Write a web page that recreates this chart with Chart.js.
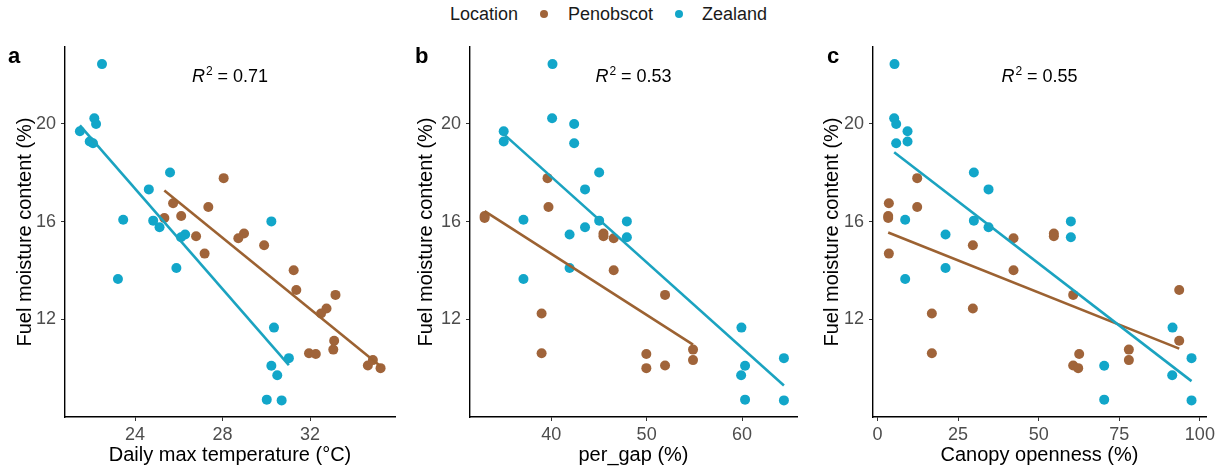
<!DOCTYPE html>
<html>
<head>
<meta charset="utf-8">
<script src="https://cdn.jsdelivr.net/npm/chart.js@4.4.1/dist/chart.umd.min.js"></script>
<style>
  body { margin: 0; background: #fff; font-family: "Liberation Sans", Arial, sans-serif; }
  #page { position: relative; width: 1220px; height: 469px; overflow: hidden; }
  .panel { position: absolute; top: 40px; height: 429px; }
  .legend { position: absolute; top: 3px; font-size: 18px; line-height: 22px; color: #1a1a1a; white-space: nowrap; }
  .dot { position: absolute; top: 10px; width: 8px; height: 8px; border-radius: 50%; }
</style>
</head>
<body>
<div id="page">
  <span class="legend" style="left:450px">Location</span>
  <span class="dot" style="left:540px;background:#a0643a"></span>
  <span class="legend" style="left:568px">Penobscot</span>
  <span class="dot" style="left:675px;background:#12a6c9"></span>
  <span class="legend" style="left:702px">Zealand</span>

  <div class="panel" style="left:0;width:400px"><canvas id="chartA"></canvas></div>
  <div class="panel" style="left:400px;width:402px"><canvas id="chartB"></canvas></div>
  <div class="panel" style="left:800px;width:420px"><canvas id="chartC"></canvas></div>
</div>

<script>
// --- data ---
const locations = ["Penobscot", "Zealand"];
const colors = { Penobscot: "#a0643a", Zealand: "#12a6c9" };
const lineColors = { Penobscot: "#9c6232", Zealand: "#1ba3c0" };

// fuel moisture content (%) — same sites in every panel
const zealandMoisture = [22.45, 20.23, 20.0, 19.7, 19.28, 19.21, 18.01, 17.32, 16.08, 16.04, 16.01,
                         15.77, 15.47, 15.36, 14.1, 13.65, 11.66, 10.41, 10.1, 9.71, 8.71, 8.68];
const penobscotMoisture = [17.78, 16.75, 16.6, 16.23, 16.15, 15.51, 15.4, 15.32, 15.03, 14.69, 14.01,
                           13.2, 13.0, 12.44, 12.24, 11.12, 10.76, 10.61, 10.58, 10.33, 10.11, 10.0];

// a: daily max temperature (°C)
const zealandTemp = [22.49, 22.14, 22.22, 21.48, 21.93, 22.08, 25.6, 24.63, 23.46, 24.83, 30.23,
                     25.12, 26.29, 26.1, 25.89, 23.22, 30.35, 31.03, 30.23, 30.5, 30.02, 30.7];
const penobscotTemp = [28.05, 25.74, 27.35, 26.11, 25.34, 28.98, 26.79, 28.72, 29.9, 27.18, 31.25,
                       31.37, 33.16, 32.75, 32.5, 33.1, 33.06, 31.95, 32.26, 34.87, 34.64, 35.22];

// b: per_gap (%) — null where no value is plotted
const zealandGap = [40.14, 40.1, 42.41, 35.03, 35.03, 42.41, 45.03, 43.55, 37.1, 45.03, 47.93,
                    43.55, 41.93, 47.93, 41.93, 37.1, 59.93, 64.38, 60.31, 59.9, 60.31, 64.38];
const penobscotGap = [39.62, null, 39.72, 33.03, 33.03, 45.48, 45.48, 46.55, null, null, 46.55,
                      null, 51.93, null, 39.0, null, 54.86, 39.0, 49.97, 54.86, 51.93, 49.97];

// c: canopy openness (%)
const zealandCanopy = [5.27, 5.17, 5.79, 9.31, 9.31, 5.79, 29.89, 34.44, 8.58, 29.89, 59.98,
                       34.44, 21.1, 59.98, 21.1, 8.58, 91.52, 97.41, 70.32, 91.42, 70.32, 97.41];
const penobscotCanopy = [12.31, 3.52, 12.31, 3.31, 3.31, 54.7, 54.7, 42.19, 29.58, 3.52, 42.19,
                         93.59, 60.7, 29.58, 16.86, 93.59, 77.97, 16.86, 62.56, 77.97, 60.7, 62.25];

const yTicks = [12, 16, 20];
const tempTicks = [24, 28, 32];
const gapTicks = [40, 50, 60];
const canopyTicks = [0, 25, 50, 75, 100];
const rSquared = ["0.71", "0.53", "0.55"];

// --- helpers ---
function toPoints(xs, ys) {
    const pts = [];
    xs.forEach((x, i) => { if (x !== null) pts.push({ x: x, y: ys[i] }); });
    return pts;
}

// least-squares line over the points, from smallest to largest x
function fitLine(pts) {
    const n = pts.length;
    const mx = pts.reduce((s, p) => s + p.x, 0) / n;
    const my = pts.reduce((s, p) => s + p.y, 0) / n;
    let sxy = 0, sxx = 0;
    pts.forEach(p => { sxy += (p.x - mx) * (p.y - my); sxx += (p.x - mx) ** 2; });
    const slope = sxy / sxx;
    const xs = pts.map(p => p.x);
    const x0 = Math.min(...xs), x1 = Math.max(...xs);
    return [{ x: x0, y: my + slope * (x0 - mx) }, { x: x1, y: my + slope * (x1 - mx) }];
}

const panelText = {
    id: "panelText",
    afterDraw(chart, args, opts) {
        const { ctx, chartArea } = chart;
        ctx.save();
        ctx.fillStyle = "#000";
        ctx.textBaseline = "alphabetic";
        ctx.font = 'bold 22px "Liberation Sans", Arial, sans-serif';
        ctx.fillText(opts.letter, opts.letterX, 23);

        // R² = value, centred over the plot area
        const fR = 'italic 18px "Liberation Sans", Arial, sans-serif';
        const fSup = '12px "Liberation Sans", Arial, sans-serif';
        const fTxt = '18px "Liberation Sans", Arial, sans-serif';
        const rest = " = " + opts.r2;
        ctx.font = fR; const wR = ctx.measureText("R").width;
        ctx.font = fSup; const wS = ctx.measureText("2").width;
        ctx.font = fTxt; const wT = ctx.measureText(rest).width;
        let x = (chartArea.left + chartArea.right) / 2 - (wR + wS + 1 + wT) / 2;
        const base = 42;
        ctx.font = fR; ctx.fillText("R", x, base); x += wR + 1;
        ctx.font = fSup; ctx.fillText("2", x, base - 7); x += wS;
        ctx.font = fTxt; ctx.fillText(rest, x, base);
        ctx.restore();
    }
};

function makePanel(id, cfg) {
    const zPts = toPoints(cfg.zx, zealandMoisture);
    const pPts = toPoints(cfg.px, penobscotMoisture);

    new Chart(document.getElementById(id), {
        type: "scatter",
        data: {
            datasets: [
                { type: "line", data: fitLine(zPts), borderColor: lineColors.Zealand, borderWidth: 2.6, pointRadius: 0, fill: false },
                { type: "line", data: fitLine(pPts), borderColor: lineColors.Penobscot, borderWidth: 2.6, pointRadius: 0, fill: false },
                { label: locations[1], data: zPts, backgroundColor: colors.Zealand, borderWidth: 0, pointRadius: 5 },
                { label: locations[0], data: pPts, backgroundColor: colors.Penobscot, borderWidth: 0, pointRadius: 5 }
            ]
        },
        options: {
            responsive: true,
            maintainAspectRatio: false,
            animation: false,
            layout: { padding: { top: 7, right: cfg.padRight, left: 0, bottom: 0 } },
            plugins: {
                legend: { display: false },
                tooltip: { enabled: false },
                panelText: { letter: cfg.letter, letterX: cfg.letterX, r2: cfg.r2 }
            },
            scales: {
                x: {
                    type: "linear",
                    min: cfg.xMin, max: cfg.xMax,
                    afterBuildTicks: s => { s.ticks = cfg.xTicks.map(v => ({ value: v })); },
                    afterFit: s => { s.height = 52; s.paddingLeft = 0; s.paddingRight = 0; },
                    grid: { drawOnChartArea: false, drawTicks: true, tickLength: 4, color: "#333" },
                    border: { display: true, color: "#000", width: 1.4 },
                    ticks: { color: "#4d4d4d", font: { size: 18, family: '"Liberation Sans", Arial, sans-serif' }, padding: 3, maxRotation: 0 },
                    title: { display: true, text: cfg.xTitle, color: "#000", padding: { top: 0, bottom: 2 },
                             font: { size: 20, family: '"Liberation Sans", Arial, sans-serif' } }
                },
                y: {
                    type: "linear",
                    min: 8.0, max: 23.15,
                    afterBuildTicks: s => { s.ticks = yTicks.map(v => ({ value: v })); },
                    afterFit: s => { s.width = cfg.yWidth; s.paddingTop = 0; s.paddingBottom = 0; },
                    grid: { drawOnChartArea: false, drawTicks: true, tickLength: 4, color: "#333" },
                    border: { display: true, color: "#000", width: 1.4 },
                    ticks: { color: "#4d4d4d", font: { size: 18, family: '"Liberation Sans", Arial, sans-serif' }, padding: 5 },
                    title: { display: true, text: "Fuel moisture content (%)", color: "#000", padding: { top: cfg.yTitlePad, bottom: 0 },
                             font: { size: 20, family: '"Liberation Sans", Arial, sans-serif' } }
                }
            }
        },
        plugins: [panelText]
    });
}

makePanel("chartA", {
    zx: zealandTemp, px: penobscotTemp, xMin: 20.8, xMax: 35.88, xTicks: tempTicks,
    xTitle: "Daily max temperature (°C)", yWidth: 65, padRight: 3, yTitlePad: 13,
    letter: "a", letterX: 8, r2: rSquared[0]
});
makePanel("chartB", {
    zx: zealandGap, px: penobscotGap, xMin: 31.5, xMax: 65.75, xTicks: gapTicks,
    xTitle: "per_gap (%)", yWidth: 70, padRight: 2, yTitlePad: 14,
    letter: "b", letterX: 15, r2: rSquared[1]
});
makePanel("chartC", {
    zx: zealandCanopy, px: penobscotCanopy, xMin: -1.4, xMax: 101.9, xTicks: canopyTicks,
    xTitle: "Canopy openness (%)", yWidth: 73, padRight: 14, yTitlePad: 20,
    letter: "c", letterX: 27, r2: rSquared[2]
});
</script>
</body>
</html>
